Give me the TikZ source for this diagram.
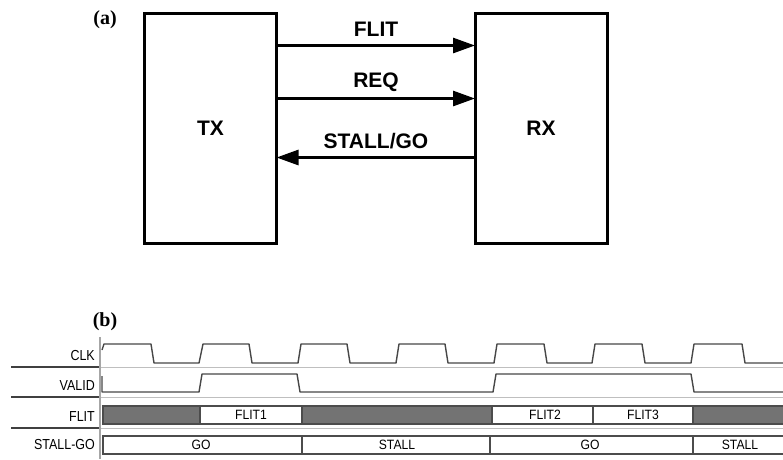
\documentclass[tikz,border=0pt]{standalone}
\usepackage{fontspec}
\setmainfont{Liberation Sans}
\newfontfamily\tmsfont{Liberation Serif}
\usetikzlibrary{arrows.meta}
\begin{document}
\begin{tikzpicture}[x=1pt,y=-1pt,
 blk/.style={draw,line width=3pt,minimum width=132pt,minimum height=230pt,outer sep=0pt,inner sep=0pt,font=\fontsize{21}{21}\selectfont\bfseries},
 sig/.style={line width=2.8pt,-{Triangle[length=22pt,width=15pt]}},
 siglbl/.style={inner sep=0pt,font=\fontsize{21}{21}\selectfont\bfseries},
 tag/.style={inner sep=0pt,font=\tmsfont\fontsize{20}{20}\selectfont\bfseries},
 rowlbl/.style={anchor=east,inner sep=0pt,font=\fontsize{14.5}{14.5}\selectfont},
 inlbl/.style={inner sep=0pt,font=\fontsize{13.5}{13.5}\selectfont},
 wave/.style={line width=1.4pt,draw=black!72,line join=round},
 darksep/.style={line width=1.6pt,draw=black!75},
 lightsep/.style={line width=1pt,draw=black!25},
 bar/.style={line width=1.2pt,draw=black!70},
 stallbar/.style={bar,fill=black!55}
]
\useasboundingbox (0,0) rectangle (783,459);

% ---------- (a) ----------
\node[tag] (ta) at (105,20) {(a)};
\node[blk] (TX) at (210.5,128.5) {TX};
\node[blk] (RX) at (541,128.5) {RX};
\draw[sig] ([yshift=-32pt]TX.north east) -- ([yshift=-32pt]RX.north west);
\draw[sig] ([yshift=-85pt]TX.north east) -- ([yshift=-85pt]RX.north west);
\draw[sig] ([yshift=-144pt]RX.north west) -- ([yshift=-144pt]TX.north east);
\node[siglbl] (lflit) at (376,29) {FLIT};
\node[siglbl] (lreq) at (376,82) {REQ};
\node[siglbl] (lsg) at (376,141) {STALL/GO};

% ---------- (b) ----------
\node[tag] (tb) at (105,322) {(b)};

\draw[line width=2pt,draw=black!35] (100,337) -- (100,459);
\foreach \yy in {367,397,428}{
  \draw[darksep] (11,\yy) -- (99,\yy);
  \draw[lightsep] (101,\yy) -- (783,\yy);
}

\node[rowlbl] (lclk) at (95,355) {\scalebox{0.86}[1]{CLK}};
\node[rowlbl] (lvalid) at (95,385) {\scalebox{0.86}[1]{VALID}};
\node[rowlbl] (lflitb) at (95,416) {\scalebox{0.86}[1]{FLIT}};
\node[rowlbl] (lstall) at (95,444) {\scalebox{0.86}[1]{STALL-GO}};

% CLK
\draw[wave] (102,350)--(104,344)--(151,344)--(154,363)--(199,363)--(203,344)--(249,344)--(252,363)--(298,363)--(301,344)--(347,344)--(350,363)--(396,363)--(399,344)--(445,344)--(448,363)--(494,363)--(497,344)--(544,344)--(547,363)--(592,363)--(595,344)--(642,344)--(645,363)--(691,363)--(694,344)--(742,344)--(745,363)--(783,363);

% VALID
\draw[wave] (102,376)--(102,392)--(199,392)--(202,374)--(297,374)--(300,392)--(493,392)--(496,374)--(691,374)--(694,392)--(783,392);

% FLIT
\draw[stallbar] (103,406) rectangle (200,424);
\draw[bar] (200,406) rectangle (302,424);
\draw[stallbar] (302,406) rectangle (492,424);
\draw[bar] (492,406) rectangle (593,424);
\draw[bar] (593,406) rectangle (693,424);
\draw[stallbar] (693,406) rectangle (784,424);
\node[inlbl] (f1) at (251,415) {\scalebox{0.9}[1]{FLIT1}};
\node[inlbl] (f2) at (545,415) {\scalebox{0.9}[1]{FLIT2}};
\node[inlbl] (f3) at (643,415) {\scalebox{0.9}[1]{FLIT3}};

% STALL-GO
\draw[bar] (103,436) rectangle (302,454);
\draw[bar] (302,436) rectangle (490,454);
\draw[bar] (490,436) rectangle (693,454);
\draw[bar] (693,436) rectangle (784,454);
\node[inlbl] (g1) at (201,445) {\scalebox{0.9}[1]{GO}};
\node[inlbl] (s1) at (397,445) {\scalebox{0.9}[1]{STALL}};
\node[inlbl] (g2) at (590,445) {\scalebox{0.9}[1]{GO}};
\node[inlbl] (s2) at (740,445) {\scalebox{0.9}[1]{STALL}};
\end{tikzpicture}
\end{document}
